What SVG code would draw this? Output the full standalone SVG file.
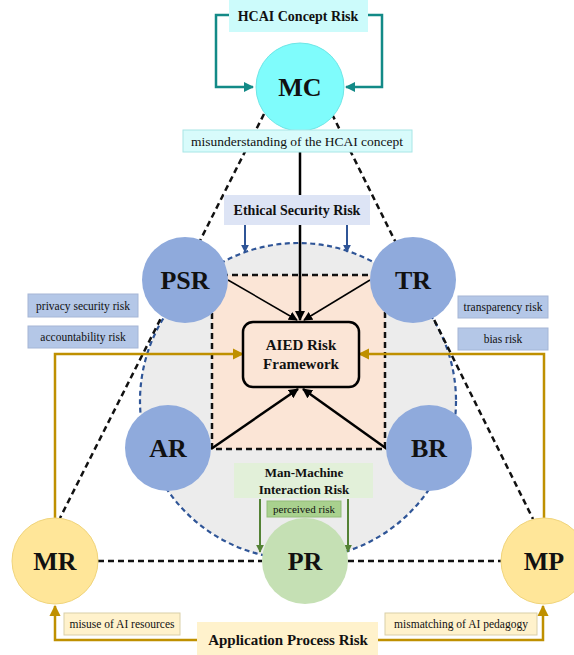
<svg xmlns="http://www.w3.org/2000/svg" width="574" height="655" viewBox="0 0 574 655">
<style>
text{font-family:"Liberation Serif","Times New Roman",serif;fill:#111;text-anchor:middle}
.node{font-size:26px;font-weight:bold}
.b{font-weight:bold}
.dash{fill:none;stroke:#111;stroke-width:2.5;stroke-dasharray:6 4}
.gold{fill:none;stroke:#bf9000;stroke-width:2.5}
.teal{fill:none;stroke:#138a87;stroke-width:2.5}
.blue{fill:none;stroke:#2f5597;stroke-width:2}
.green{fill:none;stroke:#548235;stroke-width:2}
.blk{fill:none;stroke:#000;stroke-width:2.5}
.thin{fill:none;stroke:#000;stroke-width:1.5}
.bluec{fill:#8faadc}
.lab-b{fill:#b4c7e7;stroke:#a5b6d6;stroke-width:1}
.lab-y{fill:#fff2cc;stroke:#d9cfa8;stroke-width:1}
</style>
<defs>
<marker id="aT" viewBox="0 0 10 10" refX="9" refY="5" markerWidth="4" markerHeight="4" orient="auto"><path d="M0,0L10,5L0,10z" fill="#138a87"/></marker>
<marker id="aG" viewBox="0 0 10 10" refX="9" refY="5" markerWidth="4.5" markerHeight="4.5" orient="auto"><path d="M0,0L10,5L0,10z" fill="#bf9000"/></marker>
<marker id="aB" viewBox="0 0 10 10" refX="9" refY="5" markerWidth="4" markerHeight="4" orient="auto"><path d="M0,0L10,5L0,10z" fill="#2f5597"/></marker>
<marker id="aGr" viewBox="0 0 10 10" refX="9" refY="5" markerWidth="4" markerHeight="4" orient="auto"><path d="M0,0L10,5L0,10z" fill="#548235"/></marker>
<marker id="aK" viewBox="0 0 10 10" refX="9" refY="5" markerWidth="4" markerHeight="4" orient="auto"><path d="M0,0L10,5L0,10z" fill="#000"/></marker>
<marker id="aK2" viewBox="0 0 10 10" refX="9" refY="5" markerWidth="6" markerHeight="6" orient="auto"><path d="M0,0L10,5L0,10z" fill="#000"/></marker>
</defs>

<g id="background">
<circle cx="298" cy="401" r="158" fill="#ececec"/>
<rect x="212" y="275" width="173" height="174" fill="#fbe5d6"/>
</g>

<g id="connectors">
<circle cx="298" cy="401" r="158" fill="none" stroke="#2f5597" stroke-width="2.2" stroke-dasharray="5 3.5"/>
<rect x="212" y="275" width="173" height="174" class="dash" stroke-width="2"/>
<line x1="264" y1="114" x2="60" y2="518" class="dash"/>
<line x1="332" y1="114" x2="533" y2="519" class="dash"/>
<line x1="98" y1="561" x2="262" y2="561" class="dash"/>
<line x1="348" y1="561" x2="501" y2="561" class="dash"/>
<polyline points="229,15 216,15 216,87 253,87" class="teal" marker-end="url(#aT)"/>
<polyline points="368,15 382,15 382,87 346,87" class="teal" marker-end="url(#aT)"/>
<line x1="300" y1="131" x2="300" y2="320" class="blk" marker-end="url(#aK)"/>
<line x1="245" y1="225" x2="245" y2="252" class="blue" marker-end="url(#aB)"/>
<line x1="347" y1="225" x2="347" y2="252" class="blue" marker-end="url(#aB)"/>
<line x1="228" y1="280" x2="297" y2="320" class="thin" marker-end="url(#aK2)"/>
<line x1="370" y1="280" x2="304" y2="320" class="thin" marker-end="url(#aK2)"/>
<line x1="211" y1="449" x2="298" y2="389" class="blk" marker-end="url(#aK)"/>
<line x1="387" y1="449" x2="303" y2="389" class="blk" marker-end="url(#aK)"/>
<polyline points="55,518 55,354 243,354" class="gold" marker-end="url(#aG)"/>
<polyline points="544,518 544,354 359,354" class="gold" marker-end="url(#aG)"/>
<polyline points="197,640 55,640 55,606" class="gold" marker-end="url(#aG)"/>
<polyline points="378,640 543,640 543,606" class="gold" marker-end="url(#aG)"/>
<line x1="260" y1="499" x2="260" y2="552" class="green" marker-end="url(#aGr)"/>
<line x1="348" y1="499" x2="348" y2="552" class="green" marker-end="url(#aGr)"/>
</g>

<g id="hcai-risk">
<rect x="229" y="0" width="139" height="32" fill="#ccfbfb"/>
<text x="298" y="21" class="b" font-size="14">HCAI Concept Risk</text>
</g>
<g id="MC">
<circle cx="300" cy="87" r="44" fill="#7ffcfc" stroke="#6ee6e6" stroke-width="1"/>
<text x="300" y="96" class="node">MC</text>
</g>
<g id="misunderstanding">
<rect x="183" y="130" width="229" height="22" fill="#d8fbfb" stroke="#a8e6e6" stroke-width="1"/>
<text x="297" y="146" font-size="13.5">misunderstanding of the HCAI concept</text>
</g>
<g id="ethical-risk">
<rect x="224" y="195" width="146" height="30" fill="#dde4f5"/>
<text x="297" y="215" class="b" font-size="14">Ethical Security Risk</text>
</g>
<g id="PSR">
<circle cx="185" cy="280" r="43" class="bluec"/>
<text x="185" y="289" class="node">PSR</text>
</g>
<g id="TR">
<circle cx="413" cy="280" r="43" class="bluec"/>
<text x="413" y="289" class="node">TR</text>
</g>
<g id="AR">
<circle cx="168" cy="448" r="43" class="bluec"/>
<text x="168" y="457" class="node">AR</text>
</g>
<g id="BR">
<circle cx="429" cy="448" r="43" class="bluec"/>
<text x="429" y="457" class="node">BR</text>
</g>
<g id="AIED">
<rect x="243" y="322" width="116" height="65" rx="10" fill="#fbe5d6" stroke="#000" stroke-width="2.5"/>
<text x="301" y="350" class="b" font-size="15">AIED Risk</text>
<text x="301" y="369" class="b" font-size="15">Framework</text>
</g>
<g id="privacy-label">
<rect x="28" y="294" width="110" height="23" class="lab-b"/>
<text x="83" y="310" font-size="11.5">privacy security risk</text>
</g>
<g id="accountability-label">
<rect x="28" y="326" width="110" height="22" class="lab-b"/>
<text x="83" y="341" font-size="11.5">accountability risk</text>
</g>
<g id="transparency-label">
<rect x="458" y="296" width="90" height="22" class="lab-b"/>
<text x="503" y="311" font-size="11.5">transparency risk</text>
</g>
<g id="bias-label">
<rect x="458" y="328" width="90" height="22" class="lab-b"/>
<text x="503" y="343" font-size="11.5">bias risk</text>
</g>
<g id="mmi-risk">
<rect x="234" y="463" width="139" height="35" fill="#e2f0d9"/>
<text x="304" y="477" class="b" font-size="13">Man-Machine</text>
<text x="304" y="494" class="b" font-size="13">Interaction Risk</text>
</g>
<g id="perceived-label">
<rect x="267" y="501" width="74" height="16" fill="#a9d18e" stroke="#93bd78" stroke-width="1"/>
<text x="304" y="513" font-size="11">perceived risk</text>
</g>
<g id="PR">
<circle cx="305" cy="561" r="43" fill="#c5e0b4"/>
<text x="305" y="570" class="node">PR</text>
</g>
<g id="MR">
<circle cx="55" cy="561" r="43" fill="#ffe699" stroke="#f0d47a" stroke-width="1"/>
<text x="55" y="570" class="node">MR</text>
</g>
<g id="MP">
<circle cx="544" cy="561" r="43" fill="#ffe699" stroke="#f0d47a" stroke-width="1"/>
<text x="544" y="570" class="node">MP</text>
</g>
<g id="misuse-label">
<rect x="64" y="613" width="116" height="22" class="lab-y"/>
<text x="122" y="628" font-size="11.5">misuse of AI resources</text>
</g>
<g id="mismatching-label">
<rect x="385" y="613" width="152" height="22" class="lab-y"/>
<text x="461" y="628" font-size="11.5">mismatching of AI pedagogy</text>
</g>
<g id="app-risk">
<rect x="197" y="622" width="181" height="33" fill="#fff2cc"/>
<text x="288" y="645" class="b" font-size="15">Application Process Risk</text>
</g>
</svg>
